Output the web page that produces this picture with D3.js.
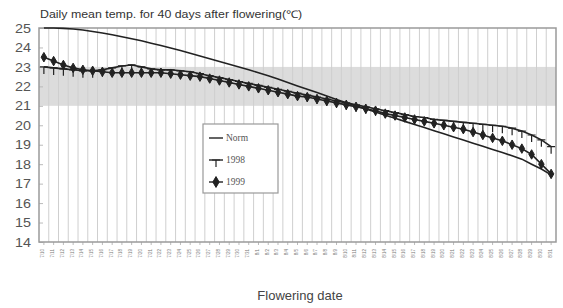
<!DOCTYPE html>
<html>
<head>
<meta charset="utf-8">
<script src="https://cdn.jsdelivr.net/npm/d3@7"></script>
<style>
  body { margin: 0; background: #fff; }
  text { font-family: "Liberation Sans", Arial, sans-serif; }
</style>
</head>
<body>
<div id="chart"></div>
<script>
// flowering dates (category axis)
const dates = ["7/10","7/11","7/12","7/13","7/14","7/15","7/16","7/17","7/18","7/19","7/20",
  "7/21","7/22","7/23","7/24","7/25","7/26","7/27","7/28","7/29","7/30","7/31",
  "8/1","8/2","8/3","8/4","8/5","8/6","8/7","8/8","8/9","8/10","8/11","8/12","8/13","8/14","8/15",
  "8/16","8/17","8/18","8/19","8/20","8/21","8/22","8/23","8/24","8/25","8/26","8/27","8/28","8/29","8/30","8/31"];

const norm = [25.0,25.0,24.98,24.95,24.9,24.82,24.74,24.65,24.55,24.45,24.34,24.22,24.1,23.97,23.84,23.7,
  23.56,23.42,23.28,23.14,23.0,22.85,22.7,22.55,22.38,22.2,22.02,21.85,21.68,21.5,21.33,21.16,21.0,
  20.84,20.68,20.52,20.36,20.2,20.04,19.88,19.72,19.56,19.4,19.24,19.08,18.92,18.76,18.6,18.43,18.26,
  18.0,17.75,17.45];

const y1998 = [23.0,22.95,22.9,22.85,22.8,22.8,22.85,22.95,23.05,23.1,23.0,22.9,22.85,22.85,22.8,22.75,
  22.65,22.55,22.45,22.35,22.25,22.15,22.05,21.95,21.85,21.75,21.65,21.55,21.45,21.35,21.25,21.15,21.05,
  20.95,20.85,20.75,20.65,20.55,20.45,20.4,20.3,20.25,20.2,20.15,20.1,20.05,20.0,19.95,19.85,19.7,
  19.5,19.25,18.9];

const y1999 = [23.5,23.3,23.1,22.95,22.85,22.8,22.75,22.7,22.7,22.7,22.7,22.7,22.7,22.65,22.6,22.55,
  22.5,22.4,22.3,22.2,22.1,22.0,21.9,21.8,21.7,21.6,21.5,21.45,21.35,21.25,21.15,21.05,20.95,
  20.85,20.75,20.6,20.5,20.4,20.3,20.2,20.1,20.0,19.9,19.8,19.65,19.5,19.35,19.2,19.0,18.8,
  18.5,18.0,17.5];

const yTicks = [14,15,16,17,18,19,20,21,22,23,24,25];
const band = [21, 23];  // shaded range
const legendNames = ["Norm", "1998", "1999"];

const W = 563, H = 308;
const margin = { top: 28, right: 7, bottom: 66, left: 39 };
const width = W - margin.left - margin.right,
      height = H - margin.top - margin.bottom;

const svg = d3.select("#chart").append("svg")
    .attr("width", W)
    .attr("height", H);

const g = svg.append("g")
    .attr("transform", `translate(${margin.left},${margin.top})`);

const x = d3.scaleBand().domain(dates).range([0, width]);
const y = d3.scaleLinear().domain([14, 25]).range([height, 0]);

// shaded band
g.append("rect")
    .attr("x", 0)
    .attr("width", width)
    .attr("y", y(band[1]))
    .attr("height", y(band[0]) - y(band[1]))
    .attr("fill", "#dcdcdc");

// vertical grid lines between categories
g.selectAll(".vgrid")
    .data(dates.slice(1))
    .enter().append("line")
    .attr("class", "vgrid")
    .attr("x1", d => x(d))
    .attr("x2", d => x(d))
    .attr("y1", 0)
    .attr("y2", height)
    .attr("stroke", "#cfcfcf")
    .attr("stroke-width", 1);

// y axis
const yAxis = g.append("g")
    .call(d3.axisLeft(y).tickValues(yTicks).tickSize(-4).tickPadding(8));
yAxis.select(".domain").remove();
yAxis.selectAll("line").attr("stroke", "#bbb");
yAxis.selectAll("text")
    .style("font-size", "13px")
    .attr("fill", "#555")
    .attr("textLength", 16)
    .attr("lengthAdjust", "spacingAndGlyphs");

// x axis with tiny rotated date labels
const xAxis = g.append("g")
    .attr("transform", `translate(0,${height})`)
    .call(d3.axisBottom(x).tickSize(3).tickPadding(2));
xAxis.select(".domain").remove();
xAxis.selectAll("line").attr("stroke", "#bbb");
xAxis.selectAll("text")
    .style("font-size", "4.5px")
    .attr("fill", "#777")
    .attr("text-anchor", "end")
    .attr("transform", "rotate(-90)")
    .attr("x", -7)
    .attr("y", -1)
    .attr("dy", "0.32em");

// plot border
g.append("rect")
    .attr("width", width)
    .attr("height", height)
    .attr("fill", "none")
    .attr("stroke", "#9a9a9a")
    .attr("stroke-width", 1.5);

const cx = d => x(d) + x.bandwidth() / 2;

const line = d3.line()
    .x((d, i) => cx(dates[i]))
    .y(d => y(d));

// series lines
[norm, y1998, y1999].forEach(s => {
    g.append("path")
        .datum(s)
        .attr("fill", "none")
        .attr("stroke", "#222")
        .attr("stroke-width", 1.6)
        .attr("d", line);
});

// 1998 markers: T shape
const tMarker = "M-4,0H4M0,0V7";
g.selectAll(".m98")
    .data(y1998)
    .enter().append("path")
    .attr("class", "m98")
    .attr("transform", (d, i) => `translate(${cx(dates[i])},${y(d)})`)
    .attr("d", tMarker)
    .attr("fill", "none")
    .attr("stroke", "#222")
    .attr("stroke-width", 1.2);

// 1999 markers: filled blob
const blob = d3.symbol().type(d3.symbolDiamond).size(26);
g.selectAll(".m99")
    .data(y1999)
    .enter().append("path")
    .attr("class", "m99")
    .attr("transform", (d, i) => `translate(${cx(dates[i])},${y(d)})`)
    .attr("d", blob)
    .attr("fill", "#222")
    .attr("stroke", "#222")
    .attr("stroke-width", 1);

// legend
const lg = svg.append("g").attr("transform", "translate(203,124)");
lg.append("rect")
    .attr("width", 75)
    .attr("height", 69)
    .attr("fill", "#fff")
    .attr("stroke", "#999")
    .attr("stroke-width", 1.2);

legendNames.forEach((name, i) => {
    const ly = 14 + i * 22;
    lg.append("line")
        .attr("x1", 6).attr("x2", 20)
        .attr("y1", ly).attr("y2", ly)
        .attr("stroke", "#222").attr("stroke-width", 1.4);
    if (i === 1) {
        lg.append("path")
            .attr("transform", `translate(13,${ly})`)
            .attr("d", tMarker)
            .attr("fill", "none").attr("stroke", "#222").attr("stroke-width", 1.2);
    }
    if (i === 2) {
        lg.append("path")
            .attr("transform", `translate(13,${ly})`)
            .attr("d", d3.symbol().type(d3.symbolDiamond).size(34))
            .attr("fill", "#222").attr("stroke", "#222");
    }
    lg.append("text")
        .attr("x", 23)
        .attr("y", ly)
        .attr("dy", "0.35em")
        .style("font-family", "'Liberation Serif', 'Times New Roman', serif")
        .style("font-size", "9.5px")
        .attr("fill", "#555")
        .text(name);
});

// title
svg.append("text")
    .attr("x", 40)
    .attr("y", 18)
    .style("font-size", "10.5px")
    .attr("fill", "#333")
    .attr("textLength", 262)
    .attr("lengthAdjust", "spacingAndGlyphs")
    .text("Daily mean temp. for 40 days after flowering(℃)");

// x axis title
svg.append("text")
    .attr("x", 300)
    .attr("y", 300)
    .attr("text-anchor", "middle")
    .style("font-size", "13px")
    .attr("fill", "#444")
    .text("Flowering date");
</script>
</body>
</html>
